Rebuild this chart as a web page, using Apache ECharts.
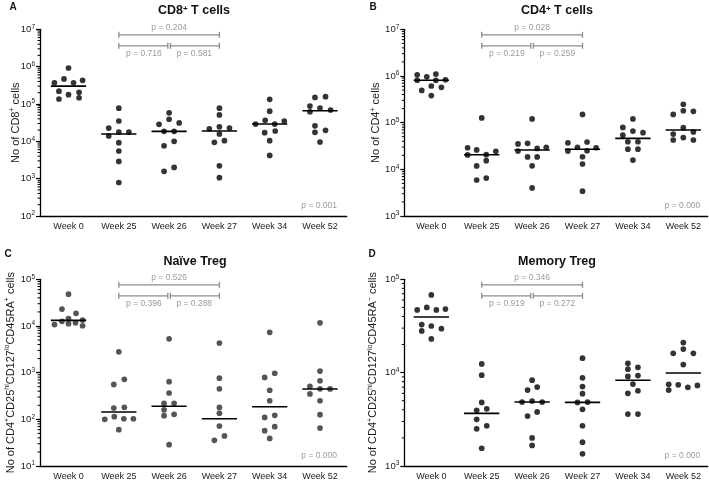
<!DOCTYPE html>
<html><head><meta charset="utf-8">
<script src="https://cdn.jsdelivr.net/npm/echarts@6/dist/echarts.min.js"></script>
<style>html,body{margin:0;padding:0;background:#fff}#c{width:709px;height:484px}</style>
</head><body><div id="c"></div>
<script>
const weeks = ['Week 0', 'Week 25', 'Week 26', 'Week 27', 'Week 34', 'Week 52'];

// ---- Panel A: CD8+ T cells ----
const cd8Values = [
  [9.2e5, 3.7e5, 4.7e5, 3.7e5, 4.3e5, 2.2e5, 1.77e5, 2.05e5, 1.36e5, 1.47e5],
  [7.7e4, 3.5e4, 2.27e4, 1.39e4, 1.77e4, 1.77e4, 9.2e3, 5.5e3, 2.9e3, 7.9e2],
  [5.8e4, 3.9e4, 2.85e4, 3.1e4, 1.85e4, 1.85e4, 1.0e4, 7.6e3, 1.57e3, 2.0e3],
  [7.7e4, 5.1e4, 2.17e4, 2.45e4, 2.27e4, 1.57e4, 9.4e3, 1.04e4, 2.2e3, 1.06e3],
  [1.33e5, 6.4e4, 3.65e4, 2.9e4, 2.9e4, 3.5e4, 1.7e4, 1.89e4, 1.04e4, 4.2e3],
  [1.5e5, 1.57e5, 8.8e4, 6.2e4, 7.8e4, 6.9e4, 2.6e4, 1.74e4, 1.97e4, 9.6e3]
];
const cd8Jitter = [
  [0, -0.28, -0.09, 0.1, 0.28, -0.19, 0, 0.21, -0.19, 0.21],
  [0, 0, -0.2, -0.2, 0, 0.2, 0, 0, 0, 0],
  [0, 0, -0.2, 0.2, -0.1, 0.1, 0.1, -0.1, -0.1, 0.1],
  [0, 0, -0.2, 0, 0.2, 0, -0.1, 0.1, 0, 0],
  [0, 0, -0.09, -0.28, 0.1, 0.29, -0.1, 0.11, 0, 0],
  [-0.1, 0.11, -0.2, -0.2, 0, 0.21, -0.1, -0.1, 0.11, 0]
];
const cd8Medians = [3.0e5, 1.57e4, 1.85e4, 1.89e4, 2.9e4, 6.6e4];
const cd8P = ['0.204', '0.716', '0.581', '0.001'];

// ---- Panel B: CD4+ T cells ----
const cd4Values = [
  [1.06e6, 9.6e5, 1.1e6, 8.1e5, 8.1e5, 8.3e5, 6.1e5, 4.9e5, 5.7e5, 3.8e5],
  [1.26e5, 2.9e4, 2.6e4, 2.43e4, 2.03e4, 2.06e4, 1.53e4, 1.18e4, 5.9e3, 6.5e3],
  [1.2e5, 3.5e4, 3.6e4, 2.96e4, 2.47e4, 2.8e4, 1.84e4, 1.84e4, 1.19e4, 4.0e3],
  [1.5e5, 3.7e4, 3.85e4, 2.96e4, 2.47e4, 2.5e4, 2.9e4, 1.86e4, 1.3e4, 3.4e3],
  [1.2e5, 7.9e4, 6.6e4, 6.1e4, 5.4e4, 3.9e4, 3.9e4, 2.7e4, 2.7e4, 1.58e4],
  [2.47e5, 1.5e5, 1.8e5, 1.75e5, 7.8e4, 5.7e4, 6.3e4, 4.25e4, 4.8e4, 4.25e4]
];
const cd4Jitter = [
  [-0.28, -0.09, 0.09, -0.28, 0.09, 0.28, 0, -0.19, 0.2, 0],
  [0, -0.28, -0.1, 0.28, -0.28, 0.09, 0.09, -0.1, -0.1, 0.09],
  [0, -0.28, -0.09, 0.28, -0.28, 0.1, -0.09, 0.1, 0, 0],
  [0, -0.29, 0.09, -0.1, -0.29, 0.09, 0.27, 0, 0, 0],
  [0, -0.2, 0, 0.2, -0.2, -0.1, 0.1, -0.1, 0.1, 0],
  [0, -0.2, 0, 0.2, 0, -0.2, 0.2, -0.2, 0, 0.2]
];
const cd4Medians = [8.1e5, 2.06e4, 2.6e4, 2.7e4, 4.6e4, 6.95e4];
const cd4P = ['0.028', '0.219', '0.259', '0.000'];

// ---- Panel C: Naive Treg ----
const naiveValues = [
  [4.8e4, 2.3e4, 1.87e4, 1.07e4, 1.26e4, 1.43e4, 1.17e4, 1.34e4, 1.12e4, 1.01e4],
  [2.8e3, 5.6e2, 7.2e2, 1.75e2, 1.81e2, 1.0e2, 1.14e2, 1.03e2, 1.03e2, 60],
  [5.3e3, 6.4e2, 3.66e2, 2.2e2, 2.2e2, 1.6e2, 1.2e2, 1.28e2, 28.6],
  [4.3e3, 7.6e2, 4.5e2, 1.8e2, 1.35e2, 72, 35.5, 44],
  [7.3e3, 7.9e2, 9.7e2, 4.2e2, 2.5e2, 1.1e2, 1.22e2, 57, 69.5, 39],
  [1.17e4, 1.08e3, 6.7e2, 5.1e2, 4.5e2, 3.5e2, 4.47e2, 2.5e2, 1.26e2, 65]
];
const naiveJitter = [
  [0, -0.13, 0.15, -0.28, -0.13, 0, 0.14, 0.28, 0, 0.28],
  [0, -0.1, 0.11, -0.1, 0.11, -0.28, -0.09, 0.1, 0.29, 0],
  [0, 0, 0, -0.1, 0.1, -0.1, -0.1, 0.1, 0],
  [0, 0, 0, 0, 0, 0, -0.1, 0.1],
  [0, -0.1, 0.1, 0, 0, -0.1, 0.1, -0.1, 0.1, 0],
  [0, 0, 0, -0.2, 0, -0.2, 0.2, 0, 0, 0]
];
const naiveMedians = [1.32e4, 1.44e2, 1.9e2, 1.03e2, 1.86e2, 4.47e2];
const naiveP = ['0.526', '0.396', '0.288', '0.000'];

// ---- Panel D: Memory Treg ----
const memoryValues = [
  [6.8e4, 4.7e4, 5.0e4, 4.7e4, 4.8e4, 3.27e4, 2.8e4, 3.16e4, 2.96e4, 2.3e4],
  [1.24e4, 9.4e3, 4.8e3, 3.95e3, 4.1e3, 3.16e3, 2.7e3, 2.5e3, 1.55e3],
  [8.3e3, 6.5e3, 7.0e3, 4.84e3, 4.97e3, 4.84e3, 3.43e3, 3.8e3, 2.0e3, 1.66e3],
  [1.43e4, 8.8e3, 7.1e3, 5.95e3, 4.8e3, 4.84e3, 4.05e3, 2.7e3, 1.8e3, 1.35e3],
  [1.26e4, 1.09e4, 1.14e4, 9.1e3, 9.3e3, 7.55e3, 6.0e3, 6.4e3, 3.6e3, 3.6e3],
  [2.1e4, 1.61e4, 1.79e4, 1.61e4, 1.22e4, 7.5e3, 6.5e3, 7.4e3, 6.97e3, 7.3e3]
];
const memoryJitter = [
  [0, -0.28, -0.09, 0.1, 0.28, -0.19, -0.19, 0, 0.2, 0],
  [0, 0, 0, -0.1, 0.1, -0.1, 0.1, -0.1, 0],
  [0, -0.09, 0.1, -0.2, 0, 0.2, -0.09, 0.1, 0, 0],
  [0, 0, 0, 0, -0.1, 0.1, 0, 0, 0, 0],
  [-0.1, -0.1, 0.1, -0.1, 0.1, 0, -0.1, 0.1, -0.1, 0.1],
  [0, -0.2, 0, 0.2, 0, -0.29, -0.29, -0.1, 0.09, 0.28]
];
const memoryMedians = [3.95e4, 3.66e3, 4.84e3, 4.8e3, 8.3e3, 9.9e3];
const memoryP = ['0.346', '0.919', '0.272', '0.000'];

const FONT = '"Liberation Sans", Arial, Helvetica, sans-serif';
const BRACKET = '#8c8c8c';
const PTEXT = '#9b9b9b';

const panels = [
  { letter: 'A', title: 'CD8{s|+} T cells', yName: 'No of CD8{s|+} cells',
    values: cd8Values, jitter: cd8Jitter, medians: cd8Medians, p: cd8P, yMin: 1e2, yMax: 1e7,
    box: { left: 40, top: 29.3, width: 306.7, height: 186.7 }, xMin: -0.567, xMax: 5.531,
    nameGap: 17, dot: '#000', titlePos: [194, 11], letterPos: [13, 7] },
  { letter: 'B', title: 'CD4{s|+} T cells', yName: 'No of CD4{s|+} cells',
    values: cd4Values, jitter: cd4Jitter, medians: cd4Medians, p: cd4P, yMin: 1e3, yMax: 1e7,
    box: { left: 404.3, top: 29.3, width: 303.4, height: 186.7 }, xMin: -0.536, xMax: 5.484,
    nameGap: 21, dot: '#000', titlePos: [557, 11], letterPos: [373, 7] },
  { letter: 'C', title: 'Naïve Treg', yName: 'No of CD4{s|+}CD25{s|hi}CD127{s|lo}CD45RA{s|+} cells',
    values: naiveValues, jitter: naiveJitter, medians: naiveMedians, p: naiveP, yMin: 1e1, yMax: 1e5,
    box: { left: 40, top: 279.3, width: 306.7, height: 186.7 }, xMin: -0.567, xMax: 5.531,
    nameGap: 22, dot: '#2b2b2b', titlePos: [195, 262], letterPos: [8, 254] },
  { letter: 'D', title: 'Memory Treg', yName: 'No of CD4{s|+}CD25{s|hi}CD127{s|lo}CD45RA{s|−} cells',
    values: memoryValues, jitter: memoryJitter, medians: memoryMedians, p: memoryP, yMin: 1e3, yMax: 1e5,
    box: { left: 404.3, top: 279.3, width: 303.4, height: 186.7 }, xMin: -0.536, xMax: 5.484,
    nameGap: 24, dot: '#000', titlePos: [557, 262], letterPos: [372, 254] }
];

function decades(a, b) {
  const out = [];
  for (let e = Math.round(Math.log10(a)); e <= Math.round(Math.log10(b)); e++) out.push(Math.pow(10, e));
  return out;
}
function minorTicks(a, b) {
  const out = [];
  for (let e = Math.round(Math.log10(a)); e < Math.round(Math.log10(b)); e++)
    for (let k = 2; k <= 9; k++) out.push(k * Math.pow(10, e));
  return out;
}

const grid = [], xAxis = [], yAxis = [], series = [], graphic = [];

panels.forEach((p, k) => {
  grid.push(Object.assign({ containLabel: false }, p.box));
  xAxis.push({
    gridIndex: k, type: 'value', min: p.xMin, max: p.xMax,
    axisLine: { show: true, onZero: false, lineStyle: { color: '#000', width: 1.3 } },
    axisTick: { show: false }, splitLine: { show: false },
    axisLabel: { customValues: [0, 1, 2, 3, 4, 5], formatter: v => weeks[Math.round(v)],
      fontSize: 9, fontFamily: FONT, color: '#1a1a1a', margin: 6 }
  });
  const dec = decades(p.yMin, p.yMax);
  yAxis.push({
    gridIndex: k, type: 'log', logBase: 10, min: p.yMin, max: p.yMax,
    axisLine: { show: true, onZero: false, lineStyle: { color: '#000', width: 1.3 } },
    axisTick: { show: true, length: 4, customValues: dec, lineStyle: { color: '#000', width: 1.2 } },
    splitLine: { show: false }, minorTick: { show: false },
    axisLabel: { customValues: dec, margin: 5,
      formatter: v => '{b|10}{s|' + Math.round(Math.log10(v)) + '}',
      rich: {
        b: { fontSize: 9.5, fontFamily: FONT, color: '#1a1a1a', lineHeight: 12 },
        s: { fontSize: 6.5, fontFamily: FONT, color: '#1a1a1a', verticalAlign: 'top', lineHeight: 7 }
      } },
    name: p.yName, nameLocation: 'middle', nameRotate: 90, nameGap: p.nameGap, nameMoveOverlap: false,
    nameTextStyle: { fontSize: 11, fontFamily: FONT, color: '#1a1a1a', lineHeight: 14,
      rich: { s: { fontSize: 7, fontFamily: FONT, color: '#1a1a1a', verticalAlign: 'top', lineHeight: 8 } } }
  });

  // minor log ticks
  series.push({
    type: 'custom', xAxisIndex: k, yAxisIndex: k, silent: true, clip: false,
    data: minorTicks(p.yMin, p.yMax).map(v => [0, v]),
    renderItem: (params, api) => {
      const cs = params.coordSys;
      const y = api.coord([0, api.value(1)])[1];
      return { type: 'line', shape: { x1: cs.x - 2.5, y1: y, x2: cs.x, y2: y },
        style: { stroke: '#000', lineWidth: 1 } };
    }
  });

  // dots
  const pts = [];
  p.values.forEach((arr, i) => arr.forEach((v, j) => pts.push([i + p.jitter[i][j], v])));
  series.push({
    type: 'scatter', xAxisIndex: k, yAxisIndex: k, data: pts, symbol: 'circle', symbolSize: 5.7,
    itemStyle: { color: p.dot }, silent: true, z: 3
  });

  // medians
  series.push({
    type: 'custom', xAxisIndex: k, yAxisIndex: k, silent: true, z: 4,
    data: p.medians.map((m, i) => [i, m]),
    renderItem: (params, api) => {
      const a = api.coord([api.value(0) - 0.35, api.value(1)]);
      const b = api.coord([api.value(0) + 0.35, api.value(1)]);
      return { type: 'line', shape: { x1: a[0], y1: a[1], x2: b[0], y2: b[1] },
        style: { stroke: '#000', lineWidth: 1.6 } };
    }
  });

  // comparison brackets and p-values
  series.push({
    type: 'custom', xAxisIndex: k, yAxisIndex: k, silent: true, clip: false, z: 5,
    data: [[0, p.yMin * 10]],
    renderItem: (params, api) => {
      const cs = params.coordSys;
      const yv = api.value(1);
      const x1 = api.coord([1, yv])[0], x2 = api.coord([2, yv])[0], x3 = api.coord([3, yv])[0];
      const x5 = api.coord([5, yv])[0];
      const yT = cs.y + 5.5, yL = cs.y + 16.5, c = 3;
      const st = { stroke: BRACKET, lineWidth: 1.3 };
      const ln = (ax, ay, bx, by) => ({ type: 'line', shape: { x1: ax, y1: ay, x2: bx, y2: by }, style: st });
      const tx = (t, x, y, al) => ({ type: 'text', style: { text: t, x: x, y: y, fill: PTEXT,
        font: '8.5px ' + FONT, align: al || 'center', textAlign: al || 'center',
        verticalAlign: 'middle', textVerticalAlign: 'middle' } });
      return { type: 'group', children: [
        ln(x1, yT, x3, yT), ln(x1, yT - c, x1, yT + c), ln(x3, yT - c, x3, yT + c),
        ln(x1, yL, x2 - 1.3, yL), ln(x1, yL - c, x1, yL + c), ln(x2 - 1.3, yL - c, x2 - 1.3, yL + c),
        ln(x2 + 1.3, yL, x3, yL), ln(x2 + 1.3, yL - c, x2 + 1.3, yL + c), ln(x3, yL - c, x3, yL + c),
        tx('p = ' + p.p[0], (x1 + x3) / 2, cs.y - 1.5),
        tx('p = ' + p.p[1], (x1 + x2) / 2, cs.y + 24.5),
        tx('p = ' + p.p[2], (x2 + x3) / 2, cs.y + 24.5),
        tx('p = ' + p.p[3], x5 + 17, cs.y + cs.height - 10, 'right')
      ] };
    }
  });

  graphic.push({ type: 'text', x: p.titlePos[0], y: p.titlePos[1], silent: true,
    style: { text: p.title, font: 'bold 12.5px ' + FONT, fill: '#111', align: 'center', textAlign: 'center',
      verticalAlign: 'middle', textVerticalAlign: 'middle',
      rich: { s: { fontSize: 8, fontWeight: 'bold', fontFamily: FONT, fill: '#111', verticalAlign: 'top', lineHeight: 8 } } } });
  graphic.push({ type: 'text', x: p.letterPos[0], y: p.letterPos[1], silent: true,
    style: { text: p.letter, font: 'bold 10px ' + FONT, fill: '#111', align: 'center', textAlign: 'center',
      verticalAlign: 'middle', textVerticalAlign: 'middle' } });
});

const chart = echarts.init(document.getElementById('c'), null, { renderer: 'canvas' });
chart.setOption({
  backgroundColor: '#fff', animation: false,
  grid, xAxis, yAxis, series, graphic
});
</script></body></html>
